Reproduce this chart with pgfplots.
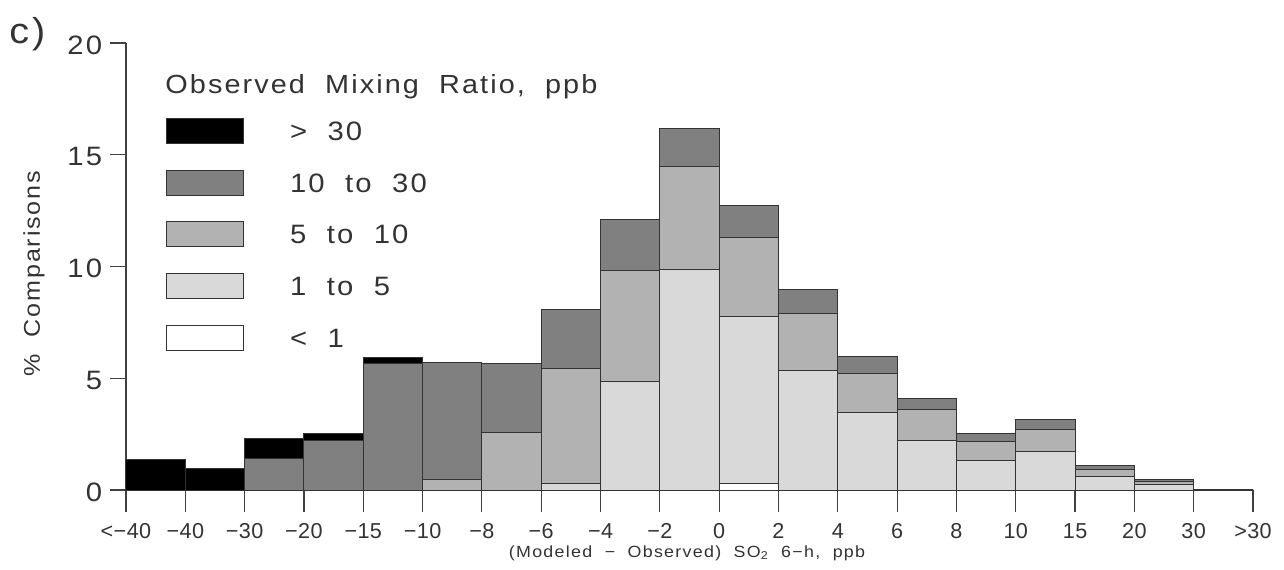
\documentclass[border=0pt]{standalone}
\usepackage{fontspec}
\setmainfont{Liberation Sans}[FakeStretch=1.1, WordSpace=2, LetterSpace=8]
\newfontfamily\tickfont{Liberation Sans}[LetterSpace=2]
\usepackage{pgfplots}
\pgfplotsset{compat=1.18}
\usepackage{pgfplotstable}

\definecolor{gtthirty}{gray}{0.00}
\definecolor{tentothirty}{gray}{0.50}
\definecolor{fivetoten}{gray}{0.70}
\definecolor{onetofive}{gray}{0.85}
\definecolor{ltone}{gray}{1.00}

% Percent of comparisons per bias bin, split by observed SO2 mixing ratio (ppb)
% x = bin centre (bins are numbered 0..18 between the labelled edges)
\pgfplotstableread{
x     lt1   a15   a510  a1030 gt30
0.5   0     0     0     0     1.35
1.5   0     0     0     0     0.98
2.5   0     0     0     1.43  0.87
3.5   0     0     0     2.21  0.33
4.5   0     0     0     5.68  0.24
5.5   0     0     0.48  5.23  0
6.5   0     0     2.58  3.07  0
7.5   0     0.30  5.14  2.65  0
8.5   0     4.86  4.96  2.29  0
9.5   0     9.87  4.61  1.71  0
10.5  0.30  7.45  3.55  1.42  0
11.5  0     5.35  2.54  1.09  0
12.5  0     3.46  1.74  0.76  0
13.5  0     2.22  1.39  0.47  0
14.5  0     1.33  0.83  0.39  0
15.5  0     1.73  0.97  0.46  0
16.5  0     0.60  0.31  0.19  0
17.5  0     0.24  0.16  0.07  0
18.5  0     0     0     0     0.04
}\sotable

\begin{document}
\begin{tikzpicture}
\useasboundingbox (-63pt,-39.5pt) rectangle (579pt,245pt);
\begin{axis}[
  at={(0pt,0pt)}, anchor=south west,
  scale only axis, width=563.5pt, height=223.5pt,
  xmin=0, xmax=19, ymin=0, ymax=20,
  axis x line*=bottom, axis y line*=left,
  axis line style={-, black!75, line width=0.6pt},
  ybar stacked, bar width=1, bar shift=0pt,
  xtick={0,...,19},
  xticklabels={<−40,−40,−30,−20,−15,−10,−8,−6,−4,−2,0,2,4,6,8,10,15,20,30,>30},
  ytick={0,5,10,15,20},
  yticklabels={0,5,10,15,20},
  tick align=outside,
  tick style={black!75, line width=0.6pt},
  xtick style={/pgfplots/major tick length=11pt},
  ytick style={/pgfplots/major tick length=8pt},
  xticklabel style={font=\tickfont\fontsize{10.8}{13}\selectfont, text=black!80,
    inner sep=0pt, anchor=north, text height=7.8pt, text depth=0pt, yshift=-12pt},
  yticklabel style={font=\fontsize{13.3}{16}\selectfont, text=black!80, inner sep=0pt, xshift=-7.5pt, yshift=-1pt},
  hbar/.style={fill=#1, draw=black!80, line width=0.5pt,
    legend image code/.code={\draw[##1] (0pt,-6.25pt) rectangle (38.5pt,6.25pt);}},
  reverse legend,
  legend cell align=left,
  legend style={at={(axis description cs:0.0355,0.8322)}, anchor=north west,
    draw=none, fill=none, inner sep=0pt, outer sep=0pt, row sep=12.85pt,
    /tikz/every odd column/.append style={column sep=23pt},
    nodes={inner sep=0pt, text height=9.5pt, text depth=0pt,
      font=\fontsize{13.3}{16}\selectfont, text=black!80}},
]
\addplot[hbar=ltone]       table[x=x, y=lt1]   {\sotable};
\addlegendentry{< 1}
\addplot[hbar=onetofive]   table[x=x, y=a15]   {\sotable};
\addlegendentry{1 to 5}
\addplot[hbar=fivetoten]   table[x=x, y=a510]  {\sotable};
\addlegendentry{5 to 10}
\addplot[hbar=tentothirty] table[x=x, y=a1030] {\sotable};
\addlegendentry{10 to 30}
\addplot[hbar=gtthirty]    table[x=x, y=gt30]  {\sotable};
\addlegendentry{> 30}
\end{axis}
\node[anchor=base west, inner sep=0pt, text=black!80, font=\fontsize{18}{20}\selectfont] at (-58.5pt,223.5pt) {c)};
\node[rotate=90, inner sep=0pt, text=black!80, font=\fontsize{11.4}{13}\selectfont] at (-46pt,108pt) {\% Comparisons};
\node[anchor=base west, inner sep=0pt, text=black!80, font=\fontsize{13.1}{16}\selectfont] at (19.5pt,198.5pt) {Observed Mixing Ratio, ppb};
\node[anchor=base, inner sep=0pt, text=black!80, font=\fontsize{8.1}{10}\selectfont] at (280.5pt,-33.5pt) {(Modeled − Observed) SO\textsubscript{2} 6−h, ppb};
\end{tikzpicture}
\end{document}
